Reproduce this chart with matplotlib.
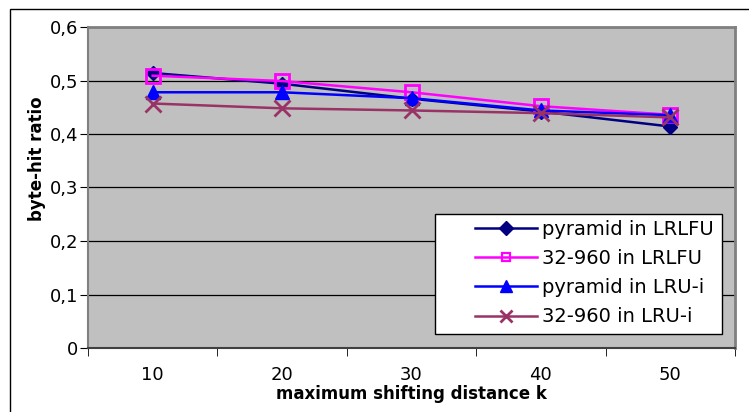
import numpy as np
import matplotlib.pyplot as plt
from matplotlib.patches import Rectangle

plt.rcParams['font.family'] = ['DejaVu Sans']

k = [10, 20, 30, 40, 50]
pyramid_lrlfu = [0.514, 0.494, 0.466, 0.442, 0.414]
s32_960_lrlfu = [0.509, 0.499, 0.478, 0.452, 0.436]
pyramid_lrui = [0.478, 0.478, 0.467, 0.444, 0.435]
s32_960_lrui = [0.457, 0.448, 0.444, 0.439, 0.431]
labels = ['pyramid in LRLFU', '32-960 in LRLFU', 'pyramid in LRU-i', '32-960 in LRU-i']

W, H = 749, 412
fig = plt.figure(figsize=(W / 100, H / 100), dpi=100)
ax = fig.add_axes([88 / W, 1 - 348 / H, (735 - 88) / W, (348 - 27) / H])

# outer chart frame (runs off the right/bottom of the picture)
fig.patches.append(Rectangle((10 / W, -0.1), 1.2, 1.1 - 9 / H, transform=fig.transFigure,
                             fill=False, edgecolor='black', linewidth=1.0))

ax.set_facecolor('#c0c0c0')

ax.plot(k, pyramid_lrlfu, color='#000080', marker='D', markersize=7, linewidth=1.8, label=labels[0])
ax.plot(k, s32_960_lrlfu, color='#ff00ff', marker='s', markersize=10, markerfacecolor='none',
        markeredgewidth=2, linewidth=1.8, label=labels[1])
ax.plot(k, pyramid_lrui, color='#0000ff', marker='^', markersize=10, linewidth=1.8, label=labels[2])
ax.plot(k, s32_960_lrui, color='#993366', marker='x', markersize=11, markeredgewidth=2,
        linewidth=1.8, label=labels[3])

ax.set_xlim(5, 55)
ax.set_ylim(0, 0.6)
ax.set_yticks(np.arange(0, 0.61, 0.1))
ax.set_yticklabels(['0', '0,1', '0,2', '0,3', '0,4', '0,5', '0,6'])
ax.yaxis.grid(True, color='black', linewidth=0.9)
ax.set_axisbelow(True)

ax.set_xticks(k)
ax.set_xticklabels([str(v) for v in k])
ax.set_xticks([5, 15, 25, 35, 45, 55], minor=True)
ax.tick_params(axis='x', which='major', length=0, pad=13, labelsize=13)
ax.tick_params(axis='x', which='minor', length=6, direction='out')
ax.tick_params(axis='y', length=6, direction='out', labelsize=13, pad=1)

for side in ['top', 'right']:
    ax.spines[side].set_color('#808080')
    ax.spines[side].set_linewidth(2)
ax.spines['left'].set_color('#808080')
ax.spines['left'].set_linewidth(1.5)
ax.spines['bottom'].set_color('#404040')
ax.spines['bottom'].set_linewidth(1.5)

ax.set_xlabel('maximum shifting distance k', fontsize=12, fontweight='bold')
ax.xaxis.set_label_coords(0.5, -(385 - 348) / 321)
ax.set_ylabel('byte-hit ratio', fontsize=12, fontweight='bold')
ax.yaxis.set_label_coords((46 - 88) / 647, (348 - 159) / 321)

# legend frame drawn by hand, Excel style
ax.add_patch(Rectangle(((435 - 88) / 647, (348 - 334) / 321), (722 - 435) / 647, (334 - 214) / 321,
                       transform=ax.transAxes, facecolor='white', edgecolor='black',
                       linewidth=1.0, zorder=4.5, clip_on=False))
leg = ax.legend(loc='upper left', bbox_to_anchor=((475 - 88) / 647, (348 - 220) / 321),
                fontsize=14, frameon=False, handlelength=3.2,
                handletextpad=0.25, labelspacing=0.52, borderpad=0, borderaxespad=0)
leg.set_zorder(5)
leg.legend_handles[1].set_markersize(6)
leg.legend_handles[1].set_markeredgewidth(1.6)
leg.legend_handles[2].set_markersize(9)
leg.legend_handles[3].set_markersize(9)

plt.savefig('out.png', dpi=100)
